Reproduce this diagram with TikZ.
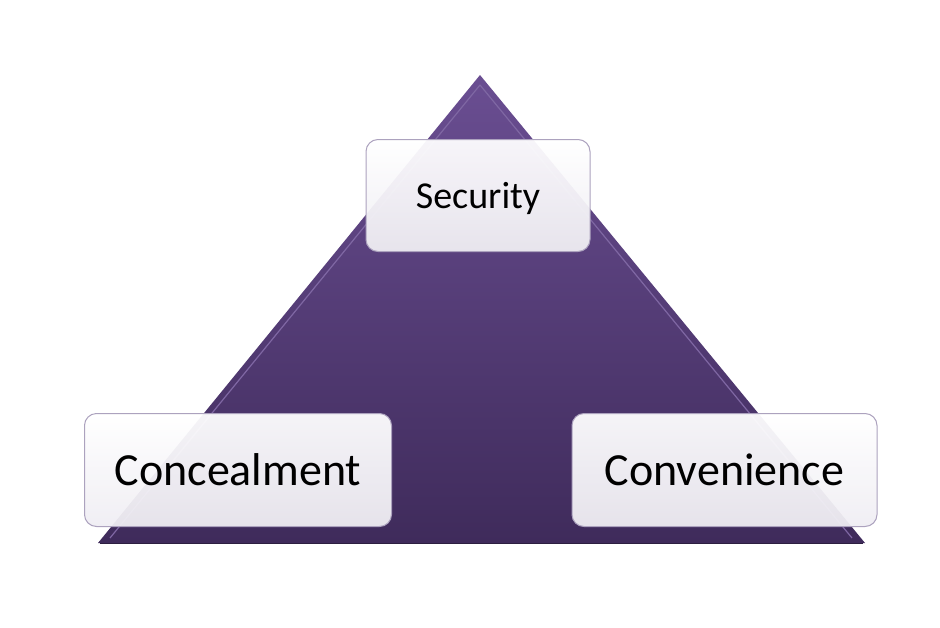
\documentclass[tikz,border=0pt]{standalone}
\usepackage{fontspec}
\setmainfont{Carlito}
\definecolor{triTop}{HTML}{6A4E92}
\definecolor{triBot}{HTML}{3F2B5B}
\definecolor{triEdge}{HTML}{7F67A3}
\definecolor{boxFill}{HTML}{EFEDF3}
\definecolor{boxLine}{HTML}{ACA2BE}
\tikzset{
  labelbox/.style={draw=boxLine, line width=1pt, rounded corners=12pt, top color=white, bottom color=boxFill, fill opacity=0.95, text opacity=1, inner sep=0pt, font=\fontsize{46}{50}\selectfont},
}
\begin{document}
\begin{tikzpicture}[x=1pt,y=-1pt]
\useasboundingbox (0,0) rectangle (940,627);
% triangle
\path[top color=triTop, bottom color=triBot] (480,75) -- (865,543) -- (98,543) -- cycle;
\draw[triEdge, line width=1.2pt, line join=round] (480,85) -- (852,538) (480,85) -- (110,538);
\draw[triBot!70!black, line width=1pt] (100,543) -- (863,543);
% boxes
\node[labelbox, minimum width=224pt, minimum height=112pt, font=\fontsize{38}{42}\selectfont, text depth=0pt] (sec) at (478,195.5) {Security};
\node[labelbox, minimum width=307pt, minimum height=113pt] (con) at (238,470) {Concealment};
\node[labelbox, minimum width=305pt, minimum height=113pt] (conv) at (724.5,470) {Convenience};
\end{tikzpicture}
\end{document}
